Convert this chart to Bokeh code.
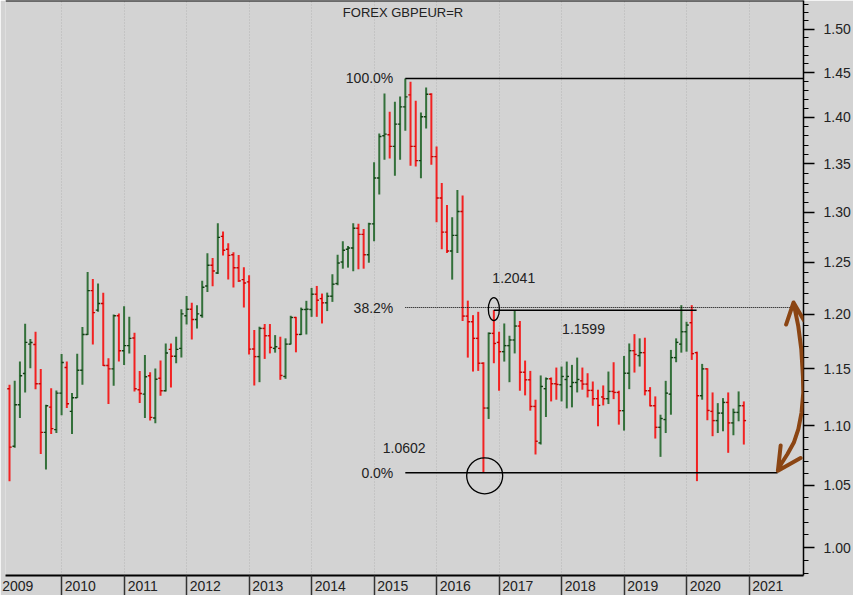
import pandas as pd
from bokeh.plotting import figure
from bokeh.models import (FixedTicker, CustomJSTickFormatter, PrintfTickFormatter, Span,
                          Label, PolyAnnotation, ColumnDataSource, Range1d)
from bokeh.embed import file_html
from bokeh.resources import INLINE

# ---------------- data (monthly OHLC, GBPEUR) ----------------
months = pd.date_range("2009-03-01", periods=142, freq="MS")

opens = [1.1323, 1.0825, 1.1182, 1.1458, 1.1725, 1.1722, 1.1367, 1.0943, 1.1161, 1.0966,
         1.1284, 1.1512, 1.1124, 1.1243, 1.1488, 1.1814, 1.2226, 1.2041, 1.2103, 1.1530,
         1.1500, 1.1988, 1.1665, 1.1711, 1.1781, 1.1314, 1.1275, 1.1438, 1.1066, 1.1416,
         1.1305, 1.1677, 1.1614, 1.1686, 1.1988, 1.2050, 1.1953, 1.1991, 1.2271, 1.2471,
         1.2396, 1.2756, 1.2628, 1.2574, 1.2447, 1.2332, 1.2310, 1.1681, 1.1611, 1.1870,
         1.1802, 1.1686, 1.1686, 1.1432, 1.1725, 1.1972, 1.1814, 1.2047, 1.2047, 1.2192,
         1.2150, 1.2110, 1.2173, 1.2294, 1.2503, 1.2628, 1.2641, 1.2838, 1.2776, 1.2574,
         1.2882, 1.3352, 1.3801, 1.3812, 1.3687, 1.3927, 1.4117, 1.4250, 1.3687, 1.3535,
         1.4008, 1.4257, 1.3578, 1.3145, 1.2799, 1.2611, 1.2766, 1.3007, 1.1985, 1.1932,
         1.1778, 1.1551, 1.1153, 1.1824, 1.1741, 1.1656, 1.1711, 1.1763, 1.1892, 1.1470,
         1.1402, 1.1167, 1.0853, 1.1323, 1.1411, 1.1367, 1.1358, 1.1405, 1.1343, 1.1378,
         1.1393, 1.1364, 1.1308, 1.1235, 1.1250, 1.1235, 1.1299, 1.1290, 1.1130, 1.1461,
         1.1665, 1.1620, 1.1647, 1.1305, 1.1173, 1.0986, 1.1053, 1.1275, 1.1602, 1.1725,
         1.1839, 1.1923, 1.1647, 1.1261, 1.1500, 1.1124, 1.1044, 1.1109, 1.1202, 1.1024,
         1.1115, 1.1173]
highs = [1.1358, 1.1393, 1.1566, 1.1913, 1.1772, 1.1839, 1.1500, 1.1182, 1.1328, 1.1308,
         1.1635, 1.1566, 1.1284, 1.1638, 1.1883, 1.2406, 1.2339, 1.2294, 1.2207, 1.1596,
         1.2000, 1.2009, 1.2078, 1.1978, 1.1830, 1.1482, 1.1626, 1.1470, 1.1503, 1.1575,
         1.1731, 1.1731, 1.1793, 1.2050, 1.2176, 1.2110, 1.2088, 1.2320, 1.2588, 1.2542,
         1.2889, 1.2806, 1.2687, 1.2598, 1.2571, 1.2451, 1.2374, 1.1855, 1.1886, 1.1911,
         1.1911, 1.1808, 1.1793, 1.1778, 1.1988, 1.1978, 1.2065, 1.2129, 1.2252, 1.2271,
         1.2198, 1.2207, 1.2384, 1.2574, 1.2707, 1.2661, 1.2889, 1.2882, 1.2831, 1.2892,
         1.3517, 1.3826, 1.4265, 1.4063, 1.4173, 1.4231, 1.4434, 1.4397, 1.4184, 1.4055,
         1.4332, 1.4268, 1.3687, 1.3301, 1.3074, 1.2949, 1.3228, 1.3170, 1.2131, 1.1994,
         1.2025, 1.1560, 1.1833, 1.2041, 1.1839, 1.1916, 1.1802, 1.2034, 1.1939, 1.1575,
         1.1482, 1.1226, 1.1441, 1.1423, 1.1423, 1.1512, 1.1521, 1.1566, 1.1536, 1.1602,
         1.1512, 1.1461, 1.1387, 1.1314, 1.1352, 1.1476, 1.1560, 1.1305, 1.1617, 1.1731,
         1.1817, 1.1778, 1.1784, 1.1337, 1.1255, 1.1095, 1.1393, 1.1672, 1.1778, 1.2088,
         1.1932, 1.2088, 1.1656, 1.1545, 1.1506, 1.1290, 1.1196, 1.1240, 1.1290, 1.1148,
         1.1299, 1.1211]
lows = [1.0533, 1.0811, 1.1066, 1.1290, 1.1506, 1.1319, 1.0760, 1.0630, 1.0929, 1.0937,
        1.1090, 1.1153, 1.0929, 1.1240, 1.1358, 1.1808, 1.1722, 1.2025, 1.1527, 1.1188,
        1.1349, 1.1566, 1.1536, 1.1640, 1.1299, 1.1196, 1.1066, 1.1044, 1.1021, 1.1261,
        1.1299, 1.1334, 1.1551, 1.1602, 1.1907, 1.1768, 1.1870, 1.1969, 1.2214, 1.2268,
        1.2387, 1.2568, 1.2332, 1.2255, 1.2310, 1.2065, 1.1631, 1.1352, 1.1381, 1.1590,
        1.1640, 1.1647, 1.1402, 1.1411, 1.1722, 1.1650, 1.1808, 1.1814, 1.1978, 1.1978,
        1.1916, 1.2032, 1.2119, 1.2278, 1.2438, 1.2448, 1.2413, 1.2432, 1.2438, 1.2496,
        1.2707, 1.3180, 1.3545, 1.3559, 1.3377, 1.3545, 1.3856, 1.3482, 1.3472, 1.3350,
        1.3880, 1.3493, 1.2899, 1.2628, 1.2591, 1.2332, 1.2591, 1.1939, 1.1602, 1.1476,
        1.1482, 1.0602, 1.1058, 1.1551, 1.1305, 1.1566, 1.1381, 1.1640, 1.1305, 1.1264,
        1.1130, 1.0755, 1.0839, 1.1075, 1.1211, 1.1226, 1.1211, 1.1150, 1.1159, 1.1290,
        1.1314, 1.1246, 1.1173, 1.0995, 1.1176, 1.1188, 1.1231, 1.1009, 1.0958, 1.1319,
        1.1467, 1.1521, 1.1264, 1.1167, 1.0890, 1.0735, 1.0937, 1.1095, 1.1560, 1.1647,
        1.1656, 1.1581, 1.0533, 1.1226, 1.1047, 1.0910, 1.0937, 1.0952, 1.0769, 1.0918,
        1.1038, 1.0839]
closes = [1.0817, 1.1182, 1.1438, 1.1741, 1.1740, 1.1367, 1.0943, 1.1173, 1.0975, 1.1284,
          1.1557, 1.1191, 1.1243, 1.1488, 1.1814, 1.2226, 1.2018, 1.2103, 1.1530, 1.1500,
          1.1988, 1.1665, 1.1711, 1.1778, 1.1323, 1.1281, 1.1429, 1.1072, 1.1407, 1.1305,
          1.1644, 1.1614, 1.1677, 1.2006, 1.2050, 1.1953, 1.2006, 1.2259, 1.2471, 1.2416,
          1.2746, 1.2618, 1.2568, 1.2447, 1.2320, 1.2300, 1.1679, 1.1611, 1.1870, 1.1802,
          1.1695, 1.1701, 1.1441, 1.1725, 1.1972, 1.1814, 1.2047, 1.2050, 1.2192, 1.2135,
          1.2110, 1.2173, 1.2288, 1.2493, 1.2618, 1.2641, 1.2838, 1.2776, 1.2574, 1.2882,
          1.3352, 1.3794, 1.3819, 1.3687, 1.3927, 1.4117, 1.4228, 1.3687, 1.3535, 1.4008,
          1.4257, 1.3578, 1.3145, 1.2799, 1.2611, 1.2766, 1.3007, 1.1985, 1.1932, 1.1778,
          1.1551, 1.1153, 1.1824, 1.1731, 1.1656, 1.1711, 1.1763, 1.1892, 1.1470, 1.1402,
          1.1167, 1.0867, 1.1343, 1.1411, 1.1367, 1.1361, 1.1432, 1.1432, 1.1378, 1.1405,
          1.1364, 1.1308, 1.1235, 1.1176, 1.1235, 1.1299, 1.1290, 1.1130, 1.1461, 1.1665,
          1.1631, 1.1647, 1.1305, 1.1173, 1.0986, 1.1062, 1.1284, 1.1602, 1.1741, 1.1839,
          1.1901, 1.1638, 1.1261, 1.1500, 1.1132, 1.1044, 1.1109, 1.1202, 1.1024, 1.1115,
          1.1173, 1.1044]

year_ticks = list(range(2009, 2023))
price_ticks = [1.00, 1.05, 1.10, 1.15, 1.20, 1.25, 1.30, 1.35, 1.40, 1.45, 1.50]
price_minor = [round(0.97 + 0.01 * i, 2) for i in range(57)]

fib_low = 1.0602
fib_high = max(highs)
fib_382 = fib_low + 0.382 * (fib_high - fib_low)
resist = 1.2041

# ---------------- styling constants ----------------
GREEN, GREEN_T = "#33703a", "#0f3f12"
RED, RED_T = "#f22222", "#c40000"
FONT = "Liberation Sans"
TXT = "#222222"

xs = [d.year + (d.month - 1) / 12 for d in months]
up = [c >= o for o, c in zip(opens, closes)]
d = 0.036
src = ColumnDataSource(dict(
    x=xs, xl=[v - d for v in xs], xr=[v + d for v in xs],
    o=opens, h=highs, l=lows, c=closes,
    body=[GREEN if u else RED for u in up],
    tick=[GREEN_T if u else RED_T for u in up],
))

X0, X1 = 2009.1025, 2021.8715
p = figure(width=853, height=595, y_axis_type="log", y_axis_location="right",
           x_range=Range1d(X0, X1), y_range=Range1d(0.97833, 1.5342),
           output_backend="svg", toolbar_location=None,
           min_border_left=5, min_border_right=47, min_border_top=0, min_border_bottom=20)
p.background_fill_color = "#d3d3d3"
p.border_fill_color = "#d3d3d3"
p.outline_line_color = None

# grid
p.ygrid.grid_line_color = None
p.xgrid.ticker = FixedTicker(ticks=year_ticks)
p.xgrid.grid_line_color = "#b4b4b4"
p.xgrid.grid_line_dash = "1 2"
p.xgrid.grid_line_width = 1

# x axis: labels placed just right of each year boundary, boundaries as long ticks
xa = p.xaxis[0]
xa.ticker = FixedTicker(ticks=[y + 0.3 for y in year_ticks], minor_ticks=year_ticks)
xa.formatter = CustomJSTickFormatter(code="return String(Math.floor(tick + 1e-6));")
xa.major_tick_out = 0
xa.major_tick_in = 0
xa.major_tick_line_color = None
xa.minor_tick_out = 20
xa.minor_tick_in = 0
xa.minor_tick_line_color = "#333333"
xa.minor_tick_line_width = 1.5
xa.axis_line_color = "black"
xa.axis_line_width = 2
xa.major_label_standoff = -15
xa.major_label_text_font = FONT
xa.major_label_text_font_size = "14px"
xa.major_label_text_color = TXT

# y axis (right, log)
ya = p.yaxis[0]
ya.ticker = FixedTicker(ticks=price_ticks, minor_ticks=price_minor)
ya.formatter = PrintfTickFormatter(format="%.2f")
ya.major_tick_out = 11
ya.major_tick_in = 0
ya.minor_tick_out = 5
ya.minor_tick_in = 0
ya.major_tick_line_color = "black"
ya.minor_tick_line_color = "black"
ya.major_tick_line_width = 1.5
ya.minor_tick_line_width = 1.2
ya.axis_line_color = "black"
ya.axis_line_width = 1.5
ya.major_label_standoff = 9
ya.major_label_text_font = FONT
ya.major_label_text_font_size = "14px"
ya.major_label_text_color = TXT

p.add_layout(Span(location=1.5342, dimension="width", line_color="black", line_width=2))

# OHLC bars
p.segment(x0="x", y0="l", x1="x", y1="h", line_color="body", line_width=2, source=src)
p.segment(x0="xl", y0="o", x1="x", y1="o", line_color="tick", line_width=1.4, source=src)
p.segment(x0="x", y0="c", x1="xr", y1="c", line_color="tick", line_width=1.4, source=src)

# Fibonacci / annotation lines
i_hi = highs.index(fib_high)
x_hi = xs[i_hi]
p.segment(x0=[x_hi], y0=[fib_high], x1=[X1], y1=[fib_high], line_color="black", line_width=1.5)
p.segment(x0=[x_hi], y0=[fib_382], x1=[2021.68], y1=[fib_382], line_color="black",
          line_width=1, line_dash="1 1")
p.segment(x0=[x_hi], y0=[fib_low], x1=[2021.457], y1=[fib_low], line_color="black", line_width=1.5)
i_res = highs.index(resist)
p.segment(x0=[xs[i_res]], y0=[resist], x1=[2020.161], y1=[resist], line_color="black", line_width=1.5)

p.ellipse(x=[xs[i_res]], y=[1.2050], width=11, height=23, width_units="screen",
          height_units="screen", fill_color=None, line_color="black", line_width=1.3)
p.scatter(x=[2016.77], y=[1.0577], size=36, marker="circle", fill_color=None,
          line_color="black", line_width=1.3)

# curved double arrow (annotation)
top_tip = (2021.712, 1.2113)
bot_tip = (2021.462, 1.0619)
curve = [(2021.787, 1.1894), (2021.836, 1.1679), (2021.862, 1.1438), (2021.868, 1.1289),
         (2021.840, 1.1114), (2021.789, 1.0970), (2021.717, 1.0856), (2021.613, 1.0757),
         (2021.511, 1.0673)]
path = ([(2021.593, 1.1906), top_tip, (2021.880, 1.1944), top_tip] + curve +
        [bot_tip, (2021.506, 1.0831), bot_tip, (2021.825, 1.0725), bot_tip] +
        curve[::-1] + [top_tip])
p.add_layout(PolyAnnotation(xs=[pt[0] for pt in path], ys=[pt[1] for pt in path],
                            fill_alpha=0, line_alpha=1, line_color="#8B4513", line_width=4,
                            line_join="round", line_cap="round"))

# texts
def lab(text, x, y, align, size="14px", xoff=0):
    p.add_layout(Label(x=x, y=y, text=text, text_align=align, text_baseline="middle",
                       x_offset=xoff, text_font=FONT, text_font_size=size, text_color=TXT))

lab("FOREX GBPEUR=R", 2015.463, 1.5199, "center", size="13px")
lab("100.0%", x_hi, fib_high, "right", xoff=-12)
lab("38.2%", x_hi, fib_382, "right", xoff=-12)
lab("0.0%", x_hi, fib_low, "right", xoff=-12)
lab("1.0602", 2015.140, 1.0808, "left")
lab("1.2041", 2016.893, 1.2346, "left")
lab("1.1599", 2018.009, 1.1869, "left")

open("out.html", "w").write(file_html(p, INLINE))
